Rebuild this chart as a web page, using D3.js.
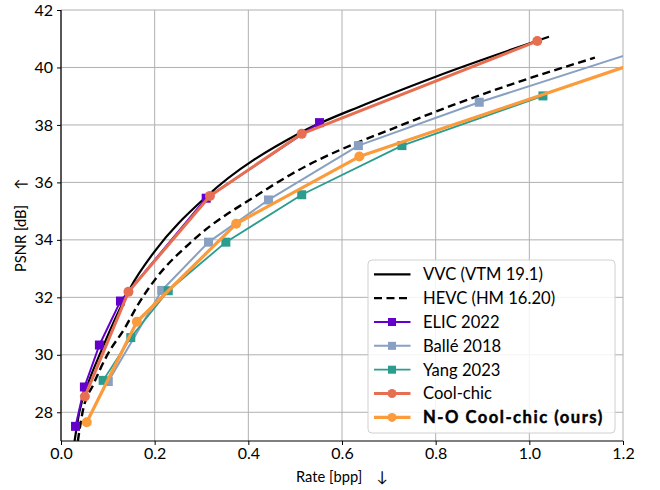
<!DOCTYPE html>
<html><head><meta charset="utf-8">
<script src="https://cdn.jsdelivr.net/npm/d3@7"></script>
<style>body{margin:0;background:#fff;} text{font-family:Lato, "DejaVu Sans", sans-serif;}</style>
</head><body><svg id="c" width="660" height="490"></svg>
<script>
const xTicks = [0, 0.2, 0.4, 0.6, 0.8, 1.0, 1.2];
const yTicks = [28, 30, 32, 34, 36, 38, 40, 42];

const vvcRate = [0.029, 0.039, 0.06, 0.085, 0.12, 0.147, 0.2, 0.31, 0.51, 0.65, 0.8, 1.042];
const vvcPsnr = [27.0, 28.0, 29.1, 30.1, 31.4, 32.3, 33.6, 35.5, 37.72, 38.72, 39.68, 41.07];

const hevcRate = [0.036, 0.046, 0.07, 0.099, 0.137, 0.162, 0.2, 0.283, 0.425, 0.489, 0.745, 0.95, 1.14];
const hevcPsnr = [27.0, 28.0, 29.0, 30.0, 30.95, 31.68, 32.6, 34.0, 35.62, 36.26, 38.11, 39.35, 40.34];

const elicRate = [0.031, 0.050, 0.082, 0.127, 0.310, 0.552];
const elicPsnr = [27.51, 28.88, 30.34, 31.87, 35.45, 38.08];

const balleRate = [0.101, 0.215, 0.315, 0.443, 0.635, 0.893, 1.30];
const ballePsnr = [29.07, 32.24, 33.92, 35.39, 37.28, 38.79, 40.92];

const yangRate = [0.090, 0.149, 0.229, 0.352, 0.514, 0.728, 1.029];
const yangPsnr = [29.11, 30.60, 32.23, 33.92, 35.57, 37.28, 39.01];

const coolRate = [0.051, 0.144, 0.318, 0.514, 1.017];
const coolPsnr = [28.55, 32.19, 35.53, 37.69, 40.92];

const noRate = [0.055, 0.162, 0.374, 0.637, 1.30];
const noPsnr = [27.65, 31.15, 34.56, 36.90, 40.55];

const seriesNames = ["VVC (VTM 19.1)", "HEVC (HM 16.20)", "ELIC 2022", "Ballé 2018", "Yang 2023", "Cool-chic", "N-O Cool-chic (ours)"];

const series = [
  {name: seriesNames[0], x: vvcRate, y: vvcPsnr, color: "#000000", w: 2.2, dash: null, marker: null, curve: true},
  {name: seriesNames[1], x: hevcRate, y: hevcPsnr, color: "#000000", w: 2.4, dash: "8,4.5", marker: null, curve: true},
  {name: seriesNames[2], x: elicRate, y: elicPsnr, color: "#6400cc", w: 2, marker: "square"},
  {name: seriesNames[3], x: balleRate, y: ballePsnr, color: "#88a0c2", w: 2, marker: "square"},
  {name: seriesNames[4], x: yangRate, y: yangPsnr, color: "#2a9d8f", w: 1.8, marker: "square"},
  {name: seriesNames[5], x: coolRate, y: coolPsnr, color: "#e76f51", w: 3, marker: "circle"},
  {name: seriesNames[6], x: noRate, y: noPsnr, color: "#fb9b3b", w: 3.2, marker: "circle", bold: true}
];

const L = 61, R = 623, T = 10, B = 441;
const x = d3.scaleLinear().domain([0, 1.2]).range([L, R]);
const y = d3.scaleLinear().domain([27, 42]).range([B, T]);

const svg = d3.select("#c");
svg.append("defs").append("clipPath").attr("id", "clip")
  .append("rect").attr("x", L).attr("y", T).attr("width", R - L).attr("height", B - T);

const grid = svg.append("g");
grid.selectAll(".gx").data(xTicks).join("line")
  .attr("x1", d => x(d)).attr("x2", d => x(d)).attr("y1", T).attr("y2", B)
  .attr("stroke", "#b0b0b0").attr("stroke-width", 1);
grid.selectAll(".gy").data(yTicks).join("line")
  .attr("x1", L).attr("x2", R).attr("y1", d => y(d)).attr("y2", d => y(d))
  .attr("stroke", "#b0b0b0").attr("stroke-width", 1);

const xAxis = svg.append("g").attr("transform", `translate(0,${B})`)
  .call(d3.axisBottom(x).tickValues(xTicks).tickFormat(d3.format(".1f")).tickSize(4).tickPadding(3));
const yAxis = svg.append("g").attr("transform", `translate(${L},0)`)
  .call(d3.axisLeft(y).tickValues(yTicks).tickFormat(d3.format("d")).tickSize(4).tickPadding(4));
[xAxis, yAxis].forEach(a => {
  a.select(".domain").attr("stroke", "#000").attr("stroke-width", 1.2);
  a.selectAll(".tick line").attr("stroke", "#000");
  a.selectAll(".tick text").attr("font-size", 16).attr("fill", "#000").attr("font-family", "Lato");
});
yAxis.select(".domain").attr("d", `M0,${T}V${B}`);
xAxis.select(".domain").attr("d", `M${L},0H${R}`);

svg.append("text").attr("x", 296).attr("y", 482).attr("font-size", 14.7).text("Rate [bpp]");
svg.append("text").attr("x", 382).attr("y", 482).attr("text-anchor", "middle").attr("font-size", 15).text("↓");
svg.append("text").attr("transform", "translate(26,272) rotate(-90)").attr("font-size", 14.7).text("PSNR [dB]");
svg.append("text").attr("transform", "translate(26,184) rotate(-90)").attr("text-anchor", "middle").attr("font-size", 15).text("↑");

const plot = svg.append("g").attr("clip-path", "url(#clip)");
series.forEach(s => {
  const pts = s.x.map((v, i) => [v, s.y[i]]);
  const line = d3.line().x(d => x(d[0])).y(d => y(d[1]))
    .curve(s.curve ? d3.curveMonotoneX : d3.curveLinear);
  plot.append("path").attr("d", line(pts)).attr("fill", "none")
    .attr("stroke", s.color).attr("stroke-width", s.w)
    .attr("stroke-dasharray", s.dash).attr("stroke-linejoin", "round");
  if (s.marker === "square") {
    plot.selectAll(null).data(pts).join("rect")
      .attr("x", d => x(d[0]) - 4.5).attr("y", d => y(d[1]) - 4.5)
      .attr("width", 9).attr("height", 9).attr("fill", s.color);
  } else if (s.marker === "circle") {
    plot.selectAll(null).data(pts).join("circle")
      .attr("cx", d => x(d[0])).attr("cy", d => y(d[1])).attr("r", 5).attr("fill", s.color);
  }
});

const lg = svg.append("g");
lg.append("rect").attr("x", 368).attr("y", 260).attr("width", 247).attr("height", 173)
  .attr("rx", 4).attr("fill", "#fff").attr("fill-opacity", 0.85).attr("stroke", "#d0d0d0");
series.forEach((s, i) => {
  const yy = 274.3 + i * 23.85;
  lg.append("line").attr("x1", 374).attr("x2", 410.5).attr("y1", yy).attr("y2", yy)
    .attr("stroke", s.color).attr("stroke-width", s.w).attr("stroke-dasharray", s.dash);
  if (s.marker === "square") {
    lg.append("rect").attr("x", 392 - 4).attr("y", yy - 4).attr("width", 8).attr("height", 8).attr("fill", s.color);
  } else if (s.marker === "circle") {
    lg.append("circle").attr("cx", 392).attr("cy", yy).attr("r", 4.5).attr("fill", s.color);
  }
  const t = lg.append("text").attr("x", 423).attr("y", yy).attr("dy", "0.35em")
    .attr("font-size", 16.6).text(s.name);
  if (s.bold) {
    t.attr("font-weight", "bold").attr("letter-spacing", 1.5)
      .attr("stroke", "#000").attr("stroke-width", 0.45);
  }
});
</script></body></html>
